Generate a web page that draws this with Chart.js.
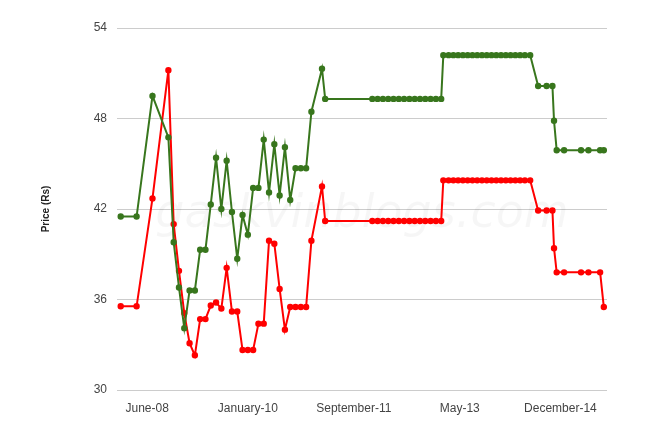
<!DOCTYPE html>
<html>
<head>
<meta charset="utf-8">
<script src="https://cdn.jsdelivr.net/npm/chart.js@4"></script>
<style>
  html, body { margin: 0; padding: 0; background: #fff; }
  #wrap { width: 667px; height: 430px; }
</style>
</head>
<body>
<div id="wrap"><canvas id="c"></canvas></div>
<script>
// months counted from Jan 2008
const months = [0, 3, 6, 9, 10, 11, 12, 13, 14, 15, 16, 17, 18, 19, 20, 21, 22, 23, 24, 25, 26, 27, 28, 29, 30, 31, 32, 33, 34, 35, 36, 38, 38.6,
  47.5, 48.5, 49.5, 50.5, 51.5, 52.5, 53.5, 54.5, 55.5, 56.5, 57.5, 58.5, 59.5, 60.5,
  60.9, 61.9, 62.8, 63.7, 64.6, 65.5, 66.4, 67.3, 68.2, 69.1, 70, 70.9, 71.8, 72.7, 73.6, 74.5, 75.4, 76.3, 77.3,
  78.8, 80.4, 81.5, 81.8, 82.3, 83.7, 86.9, 88.3, 90.5, 91.2];
const green = [41.5, 41.5, 49.5, 46.75, 39.8, 36.8, 34.1, 36.6, 36.6, 39.3, 39.3, 42.3, 45.4, 42, 45.2, 41.8, 38.7, 41.6, 40.3, 43.4, 43.4, 46.6, 43.1, 46.3, 42.9, 46.1, 42.6, 44.7, 44.7, 44.7, 48.45, 51.3, 49.3,
  49.3, 49.3, 49.3, 49.3, 49.3, 49.3, 49.3, 49.3, 49.3, 49.3, 49.3, 49.3, 49.3, 49.3,
  52.2, 52.2, 52.2, 52.2, 52.2, 52.2, 52.2, 52.2, 52.2, 52.2, 52.2, 52.2, 52.2, 52.2, 52.2, 52.2, 52.2, 52.2, 52.2,
  50.15, 50.15, 50.15, 47.85, 45.9, 45.9, 45.9, 45.9, 45.9, 45.9];
const red = [35.55, 35.55, 42.7, 51.2, 41, 37.9, 35.1, 33.1, 32.3, 34.7, 34.7, 35.6, 35.8, 35.4, 38.1, 35.2, 35.2, 32.65, 32.65, 32.65, 34.4, 34.4, 39.9, 39.7, 36.7, 34, 35.5, 35.5, 35.5, 35.5, 39.9, 43.5, 41.2,
  41.2, 41.2, 41.2, 41.2, 41.2, 41.2, 41.2, 41.2, 41.2, 41.2, 41.2, 41.2, 41.2, 41.2,
  43.9, 43.9, 43.9, 43.9, 43.9, 43.9, 43.9, 43.9, 43.9, 43.9, 43.9, 43.9, 43.9, 43.9, 43.9, 43.9, 43.9, 43.9, 43.9,
  41.9, 41.9, 41.9, 39.4, 37.8, 37.8, 37.8, 37.8, 37.8, 35.5];
const tickMonths = [5, 24, 44, 64, 83];
const tickLabels = ['June-08', 'January-10', 'September-11', 'May-13', 'December-14'];

const pts = arr => arr.map((v, i) => ({ x: months[i], y: v }));

const watermark = {
  id: 'watermark',
  beforeDatasetsDraw(chart) {
    const { ctx, chartArea: a } = chart;
    ctx.save();
    ctx.fillStyle = 'rgba(0,0,0,0.035)';
    ctx.font = 'italic 46px "DejaVu Sans"';
    ctx.textAlign = 'center';
    ctx.textBaseline = 'middle';
    ctx.fillText('gaskvinblogs.com', (a.left + a.right) / 2, 215);
    ctx.restore();
  }
};

new Chart(document.getElementById('c'), {
  type: 'line',
  data: {
    datasets: [
      { data: pts(green), borderColor: '#38761d', backgroundColor: '#38761d', borderWidth: 2, pointRadius: 2.2, pointHoverRadius: 3 },
      { data: pts(red), borderColor: '#ff0000', backgroundColor: '#ff0000', borderWidth: 2, pointRadius: 2.2, pointHoverRadius: 3 }
    ]
  },
  options: {
    responsive: true,
    maintainAspectRatio: false,
    animation: false,
    layout: { padding: { top: 28, right: 60, left: 36, bottom: 0 } },
    plugins: { legend: { display: false }, tooltip: { enabled: false } },
    scales: {
      x: {
        type: 'linear', min: -0.7, max: 91.8,
        grid: { display: false },
        border: { display: false },
        afterBuildTicks: s => { s.ticks = tickMonths.map(v => ({ value: v })); },
        ticks: {
          color: '#444', font: { family: 'Arial, "Liberation Sans"', size: 12 },
          maxRotation: 0, autoSkip: false,
          callback: v => tickLabels[tickMonths.indexOf(v)]
        },
        afterFit: s => { s.height = 40; }
      },
      y: {
        min: 30, max: 54,
        grid: { color: '#cccccc', drawTicks: false },
        border: { display: false },
        ticks: { stepSize: 6, color: '#444', padding: 10, font: { family: 'Arial, "Liberation Sans"', size: 12 } },
        title: { display: true, text: 'Price (Rs)', color: '#222', font: { family: 'Arial, "Liberation Sans"', size: 10, weight: 'bold' } },
        afterFit: s => { s.width = 81; }
      }
    }
  },
  plugins: [watermark]
});
</script>
</body>
</html>
